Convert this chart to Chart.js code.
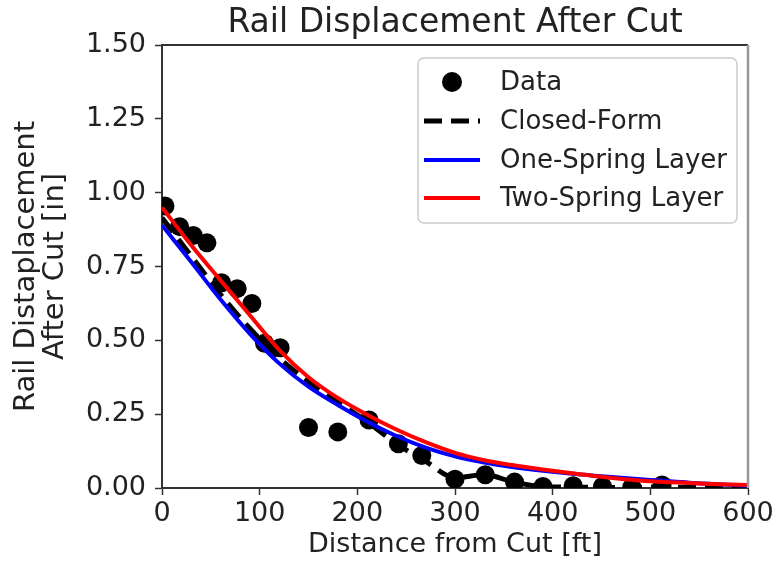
<!DOCTYPE html>
<html>
<head>
<meta charset="utf-8">
<script src="https://cdn.jsdelivr.net/npm/chart.js@4.4.1/dist/chart.umd.min.js"></script>
<style>
  html, body { margin: 0; padding: 0; background: #fff; }
  canvas { display: block; }
</style>
</head>
<body>
<canvas id="railChart" width="778" height="568"></canvas>
<script>
// measured points
const dataX = [3, 18, 32, 46, 61, 77, 92, 105, 121, 150, 180, 212, 242, 266, 300, 331, 361, 390, 421, 451, 481, 512];
const dataY = [0.955, 0.885, 0.855, 0.83, 0.695, 0.675, 0.625, 0.49, 0.475, 0.205, 0.19, 0.23, 0.15, 0.11, 0.03, 0.045, 0.02, 0.005, 0.008, 0.005, 0.003, 0.01];

// model curves, sampled every 30 ft
const curveX = [0, 30, 60, 90, 120, 150, 180, 210, 240, 270, 300, 330, 360, 390, 420, 450, 480, 510, 540, 570, 600];
const closedFormY = [0.915, 0.785, 0.655, 0.54, 0.44, 0.36, 0.29, 0.225, 0.15, 0.09, 0.035, 0.045, 0.02, 0.005, 0.003, 0.002, 0.002, 0.004, 0.002, 0.001, 0.0];
const oneSpringY = [0.89, 0.765, 0.638, 0.522, 0.422, 0.343, 0.281, 0.225, 0.176, 0.137, 0.107, 0.086, 0.07, 0.058, 0.048, 0.04, 0.032, 0.025, 0.018, 0.013, 0.008];
const twoSpringY = [0.95, 0.822, 0.703, 0.585, 0.468, 0.375, 0.305, 0.248, 0.198, 0.155, 0.119, 0.094, 0.077, 0.063, 0.05, 0.038, 0.028, 0.021, 0.017, 0.013, 0.01];

const xTicks = [0, 100, 200, 300, 400, 500, 600];
const yTicks = [0, 0.25, 0.5, 0.75, 1.0, 1.25, 1.5];

const FONT = '"DejaVu Sans", "Liberation Sans", sans-serif';
const AXIS = '#333';

const toPoints = (xs, ys) => xs.map((x, i) => ({ x: x, y: ys[i] }));

// title centred on the plot area, plus the top/right frame
const framePlugin = {
    id: 'frame',
    afterDraw(chart) {
        const { ctx, chartArea: a } = chart;
        ctx.save();
        ctx.strokeStyle = AXIS;
        ctx.lineWidth = 2;
        ctx.beginPath();
        ctx.moveTo(a.left, a.top);
        ctx.lineTo(a.right, a.top);
        ctx.stroke();
        ctx.strokeStyle = '#999';
        ctx.lineWidth = 2.5;
        ctx.beginPath();
        ctx.moveTo(a.right, a.top);
        ctx.lineTo(a.right, a.bottom);
        ctx.stroke();

        ctx.fillStyle = '#222';
        ctx.font = '33px ' + FONT;
        ctx.textAlign = 'center';
        ctx.textBaseline = 'middle';
        ctx.fillText('Rail Displacement After Cut', (a.left + a.right) / 2, 23);
        ctx.restore();
    }
};

// matplotlib-like legend box in the upper right
const legendPlugin = {
    id: 'mplLegend',
    afterDraw(chart) {
        const { ctx } = chart;
        const box = { x: 418, y: 58, w: 319, h: 165 };
        ctx.save();
        ctx.fillStyle = 'rgba(255,255,255,0.85)';
        ctx.strokeStyle = '#ccc';
        ctx.lineWidth = 1.5;
        ctx.beginPath();
        ctx.roundRect(box.x, box.y, box.w, box.h, 6);
        ctx.fill();
        ctx.stroke();

        ctx.font = '26px ' + FONT;
        ctx.textAlign = 'left';
        ctx.textBaseline = 'middle';
        const rows = [82, 121, 160, 198];
        chart.data.datasets.forEach((ds, i) => {
            const y = rows[i];
            if (ds.showLine) {
                ctx.strokeStyle = ds.borderColor;
                ctx.lineWidth = ds.borderWidth;
                ctx.setLineDash(ds.borderDash || []);
                ctx.beginPath();
                ctx.moveTo(424, y);
                ctx.lineTo(480, y);
                ctx.stroke();
                ctx.setLineDash([]);
            } else {
                ctx.fillStyle = ds.pointBackgroundColor;
                ctx.beginPath();
                ctx.arc(452, y, 10, 0, Math.PI * 2);
                ctx.fill();
            }
            ctx.fillStyle = '#222';
            ctx.fillText(ds.label, 500, y + 1);
        });
        ctx.restore();
    }
};

const config = {
    type: 'scatter',
    data: {
        datasets: [
            {
                label: 'Data',
                data: toPoints(dataX, dataY),
                showLine: false,
                pointRadius: 9.5,
                pointHoverRadius: 9.5,
                pointBackgroundColor: '#000',
                pointBorderWidth: 0,
                clip: 0,
                order: 4
            },
            {
                label: 'Closed-Form',
                data: toPoints(curveX, closedFormY),
                showLine: true,
                borderColor: '#000',
                borderWidth: 5,
                borderDash: [18, 9],
                pointRadius: 0,
                cubicInterpolationMode: 'monotone',
                clip: 0,
                order: 3
            },
            {
                label: 'One-Spring Layer',
                data: toPoints(curveX, oneSpringY),
                showLine: true,
                borderColor: '#0000ff',
                borderWidth: 4,
                pointRadius: 0,
                cubicInterpolationMode: 'monotone',
                clip: 0,
                order: 2
            },
            {
                label: 'Two-Spring Layer',
                data: toPoints(curveX, twoSpringY),
                showLine: true,
                borderColor: '#ff0000',
                borderWidth: 4,
                pointRadius: 0,
                cubicInterpolationMode: 'monotone',
                clip: 0,
                order: 1
            }
        ]
    },
    options: {
        responsive: false,
        animation: false,
        layout: { padding: { top: 45, right: 30, left: 0, bottom: 0 } },
        plugins: {
            legend: { display: false },
            title: { display: false },
            tooltip: { enabled: false }
        },
        scales: {
            x: {
                type: 'linear',
                min: 0,
                max: 600,
                afterBuildTicks: (scale) => { scale.ticks = xTicks.map(v => ({ value: v })); },
                afterFit: (scale) => {
                    scale.height = 80;
                    scale.paddingLeft = 0;
                    scale.paddingRight = 0;
                },
                grid: { drawOnChartArea: false, drawTicks: true, tickLength: 7, tickColor: AXIS, tickWidth: 1.5 },
                border: { color: AXIS, width: 2 },
                ticks: {
                    color: '#222',
                    padding: 3,
                    maxRotation: 0,
                    font: { family: FONT, size: 27 }
                },
                title: {
                    display: true,
                    text: 'Distance from Cut [ft]',
                    color: '#222',
                    font: { family: FONT, size: 27 },
                    padding: { top: 0, bottom: 7 }
                }
            },
            y: {
                type: 'linear',
                min: 0,
                max: 1.5,
                afterBuildTicks: (scale) => { scale.ticks = yTicks.map(v => ({ value: v })); },
                afterFit: (scale) => {
                    scale.width = 162;
                    scale.paddingTop = 0;
                    scale.paddingBottom = 0;
                },
                grid: { drawOnChartArea: false, drawTicks: true, tickLength: 7, tickColor: AXIS, tickWidth: 1.5 },
                border: { color: AXIS, width: 2 },
                ticks: {
                    color: '#222',
                    padding: 9,
                    font: { family: FONT, size: 27 },
                    callback: (v) => Number(v).toFixed(2)
                },
                title: {
                    display: true,
                    text: ['Rail Distaplacement', 'After Cut [in]'],
                    color: '#222',
                    font: { family: FONT, size: 29, lineHeight: 1.0 },
                    padding: { top: 12, bottom: 0 }
                }
            }
        }
    },
    plugins: [framePlugin, legendPlugin]
};

new Chart(document.getElementById('railChart'), config);
</script>
</body>
</html>
